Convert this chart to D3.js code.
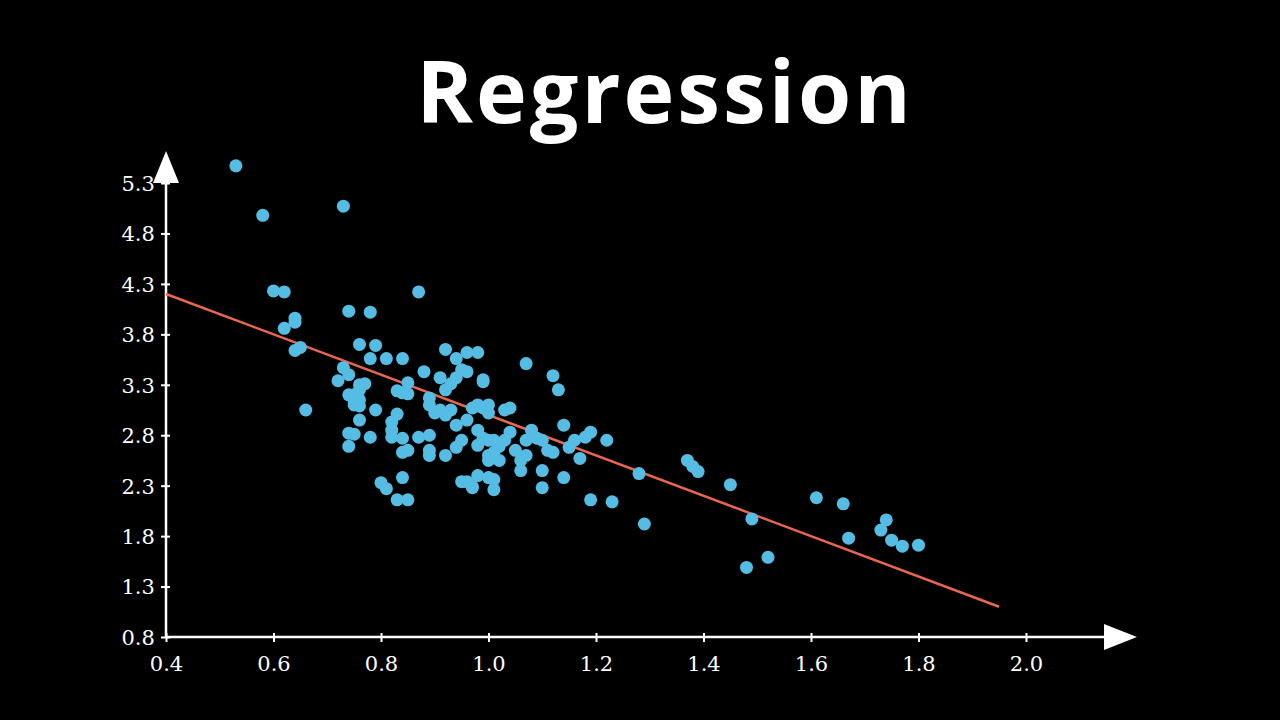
<!DOCTYPE html>
<html><head><meta charset="utf-8">
<script src="https://cdn.jsdelivr.net/npm/d3@7"></script>
<style>body{margin:0;background:#000}svg{display:block}</style>
</head><body>
<svg id="c" width="1280" height="720"></svg>
<script>
const title = "Regression";
const xTicks = [0.4,0.6,0.8,1.0,1.2,1.4,1.6,1.8,2.0];
const yTicks = [0.8,1.3,1.8,2.3,2.8,3.3,3.8,4.3,4.8,5.3];
const xs = [0.53,0.58,0.60,0.62,0.62,0.64,0.64,0.64,0.65,0.66,0.73,0.74,0.78,0.87,0.72,0.73,0.74,0.74,0.75,0.75,0.76,0.76,0.76,0.75,0.76,0.77,0.76,0.79,0.78,0.81,0.84,0.79,0.78,0.76,0.74,0.74,0.75,0.80,0.81,0.83,0.85,0.84,0.82,0.82,0.82,0.83,0.84,0.85,0.85,0.83,0.84,0.84,0.85,0.87,0.88,0.89,0.89,0.90,0.91,0.92,0.92,0.93,0.94,0.94,0.95,0.96,0.96,0.98,0.99,0.99,0.89,0.89,0.89,0.92,0.91,0.92,0.93,0.94,0.95,0.94,0.95,0.96,0.97,0.97,0.98,1.01,1.00,1.01,0.96,0.97,0.98,0.99,1.00,1.00,1.03,1.04,0.98,0.99,1.00,1.01,0.98,1.00,1.00,1.01,1.02,1.03,1.04,1.05,1.02,1.06,1.07,1.06,1.07,1.10,1.10,1.11,1.07,1.08,1.09,1.10,1.12,1.12,1.13,1.14,1.15,1.16,1.17,1.18,1.19,1.14,1.19,1.22,1.23,1.28,1.29,1.37,1.38,1.39,1.45,1.49,1.48,1.52,1.61,1.66,1.67,1.73,1.74,1.75,1.77,1.80];
const ys = [5.47,4.98,4.23,4.22,3.86,3.96,3.92,3.64,3.67,3.05,5.07,4.03,4.02,4.22,3.34,3.47,3.40,3.20,3.13,3.20,3.30,3.25,3.15,3.10,3.09,3.31,3.70,3.69,3.56,3.56,3.56,3.05,2.78,2.95,2.82,2.69,2.81,2.33,2.27,2.16,2.16,2.38,2.93,2.85,2.78,3.24,3.22,3.32,3.21,3.01,2.77,2.63,2.65,2.78,3.43,3.17,3.10,3.02,3.37,3.65,3.25,3.31,3.37,3.56,3.45,3.62,3.43,3.62,3.35,3.33,2.80,2.65,2.60,2.60,3.05,3.00,3.05,2.90,2.75,2.68,2.34,2.34,2.29,2.28,2.40,2.26,2.38,2.36,2.95,3.07,3.10,3.07,3.10,3.02,3.05,3.07,2.85,2.77,2.75,2.75,2.70,2.60,2.55,2.63,2.69,2.75,2.83,2.65,2.55,2.55,2.60,2.45,3.51,2.45,2.28,2.65,2.75,2.85,2.77,2.75,2.63,3.39,3.25,2.90,2.68,2.75,2.57,2.78,2.83,2.38,2.16,2.75,2.14,2.42,1.92,2.55,2.49,2.44,2.31,1.97,1.49,1.59,2.18,2.12,1.78,1.86,1.96,1.76,1.70,1.71];
const lineX = [0.4,1.95];
const intercept = 5.0, slope = -2.0;

const svg = d3.select("#c");
svg.append("rect").attr("width",1280).attr("height",720).attr("fill","#000");
const x = d3.scaleLinear().domain([0.4,2.0]).range([166,1026]);
const y = d3.scaleLinear().domain([0.8,5.3]).range([637,183]);

svg.append("text").attr("x",665).attr("y",123).attr("text-anchor","middle")
  .attr("fill","#fff").attr("font-family","'Open Sans',sans-serif").attr("font-weight",700)
  .attr("font-size",86).attr("letter-spacing",3).text(title);

const font = "'DejaVu Serif','Liberation Serif',serif";
const xa = svg.append("g").attr("transform","translate(0,637)")
  .call(d3.axisBottom(x).tickValues(xTicks).tickFormat(d3.format(".1f")).tickSize(6).tickSizeOuter(0));
const ya = svg.append("g").attr("transform","translate(166,0)")
  .call(d3.axisLeft(y).tickValues(yTicks).tickFormat(d3.format(".1f")).tickSize(6).tickSizeOuter(0));
[xa,ya].forEach(a=>{
  a.select(".domain").remove();
  a.selectAll("line").attr("stroke","#fff").attr("stroke-width",2);
  a.selectAll("text").attr("fill","#fff").attr("font-family",font).attr("font-size",21);
});
xa.selectAll("line").attr("y1",-4).attr("y2",5);
xa.selectAll("text").attr("dy","1.2em");
ya.selectAll("line").attr("x1",4).attr("x2",-5);
ya.selectAll("text").attr("dx","-0.1em").attr("dy","0.35em");

svg.append("line").attr("x1",166).attr("x2",1112).attr("y1",637).attr("y2",637).attr("stroke","#fff").attr("stroke-width",2.5);
svg.append("line").attr("x1",166).attr("x2",166).attr("y1",637).attr("y2",180).attr("stroke","#fff").attr("stroke-width",2.5);
svg.append("path").attr("d","M1104,624 L1137,637 L1104,650 Z").attr("fill","#fff");
svg.append("path").attr("d","M153,183 L166,151 L179,183 Z").attr("fill","#fff");

svg.append("line").attr("x1",x(lineX[0])).attr("y1",y(intercept+slope*lineX[0]))
  .attr("x2",x(lineX[1])).attr("y2",y(intercept+slope*lineX[1]))
  .attr("stroke","#e8674d").attr("stroke-width",2.5);

svg.append("g").selectAll("circle").data(xs.map((v,i)=>[v,ys[i]])).join("circle")
  .attr("cx",d=>x(d[0])).attr("cy",d=>y(d[1])).attr("r",6.5).attr("fill","#55bde4");
</script>
</body></html>
